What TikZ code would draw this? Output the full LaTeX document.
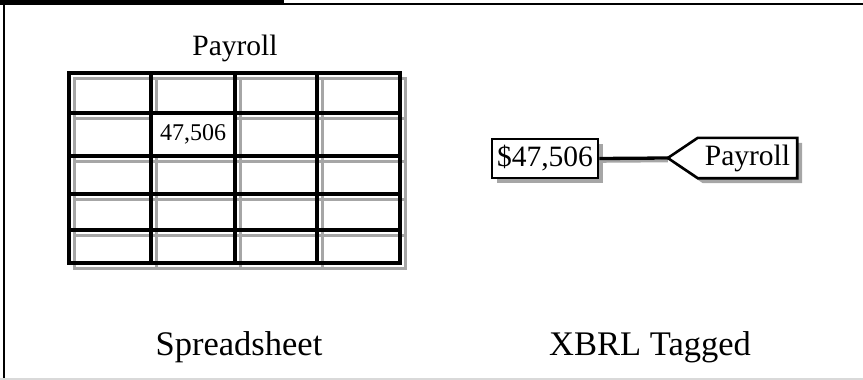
\documentclass[tikz,border=0pt]{standalone}
\usepackage{fontspec}
\setmainfont{Liberation Serif}
\usetikzlibrary{calc,positioning,shadows}

\begin{document}
\begin{tikzpicture}[x=1pt,y=-1pt,
  gridline/.style={line width=3.3pt},
  shade/.style={draw=black!35, line width=3pt},
  valbox/.style = {shape=rectangle, draw, line width=2.6pt, fill=white,
    inner sep=0pt, minimum width=106pt, minimum height=39pt,
    font=\fontsize{29.5}{31}\selectfont,
    drop shadow={shadow xshift=5pt, shadow yshift=-5pt, fill=black!35, opacity=1}},
  tagbox/.style = {shape=rectangle, inner sep=0pt, minimum width=99pt, minimum height=40pt,
    font=\fontsize{29.5}{31}\selectfont},
  caption/.style={anchor=base, font=\fontsize{34.5}{36}\selectfont}
  ]
  \useasboundingbox (0,0) rectangle (863,380);
  % frame
  \fill (0,0) rectangle (284,5);
  \draw[line width=1.8pt] (284,4.2) -- (863,4.2);
  \draw[line width=2.4pt] (4,0) -- (4,380);
  \draw[black!15, line width=1.5pt] (0,379) -- (863,379);

  % spreadsheet
  \node[anchor=base, font=\fontsize{29.5}{31}\selectfont] (title) at (235,55) {Payroll};
  \draw[shade] (74,78) rectangle (405,268);
  \foreach \x in {151,235,317} \draw[shade] (\x+5,78) -- (\x+5,268);
  \foreach \y in {113,156,194,230} \draw[shade] (74,\y+5) -- (405,\y+5);
  \fill[white] (151,113) rectangle (235,156);
  \draw[gridline] (69,73) rectangle (400,263);
  \foreach \x in {151,235,317} \draw[gridline] (\x,73) -- (\x,263);
  \foreach \y in {113,156,194,230} \draw[gridline] (69,\y) -- (400,\y);
  \node[font=\fontsize{24}{26}\selectfont] (cell) at (193,134.5) {47,506};

  % xbrl tag
  \node[valbox] (val) at (545,158.5) {\$47,506};
  \node[tagbox] (tag) at (747.5,158) {};
  \coordinate (tip) at ($(tag.west)+(-30,0)$);
  \fill[black!35] ($(tag.north west)+(5,5)$) -- ($(tag.north east)+(5,5)$)
    -- ($(tag.south east)+(5,5)$) -- ($(tag.south west)+(5,5)$) -- ($(tip)+(5,5)$) -- cycle;
  \draw[shade, line width=2.6pt] ([yshift=-3pt]val.east) -- ([yshift=-3pt]tip);
  \draw[line width=3.3pt] (val.east) -- (tip);
  \draw[line width=2.6pt, fill=white, line join=miter] (tag.north west) -- (tag.north east)
    -- (tag.south east) -- (tag.south west) -- (tip) -- cycle;
  \node[tagbox] at (tag) {Payroll};

  \node[caption] (sheet) at (239,355) {Spreadsheet};
  \node[caption] (xbrl) at (650,355) {XBRL Tagged};
\end{tikzpicture}
\end{document}
